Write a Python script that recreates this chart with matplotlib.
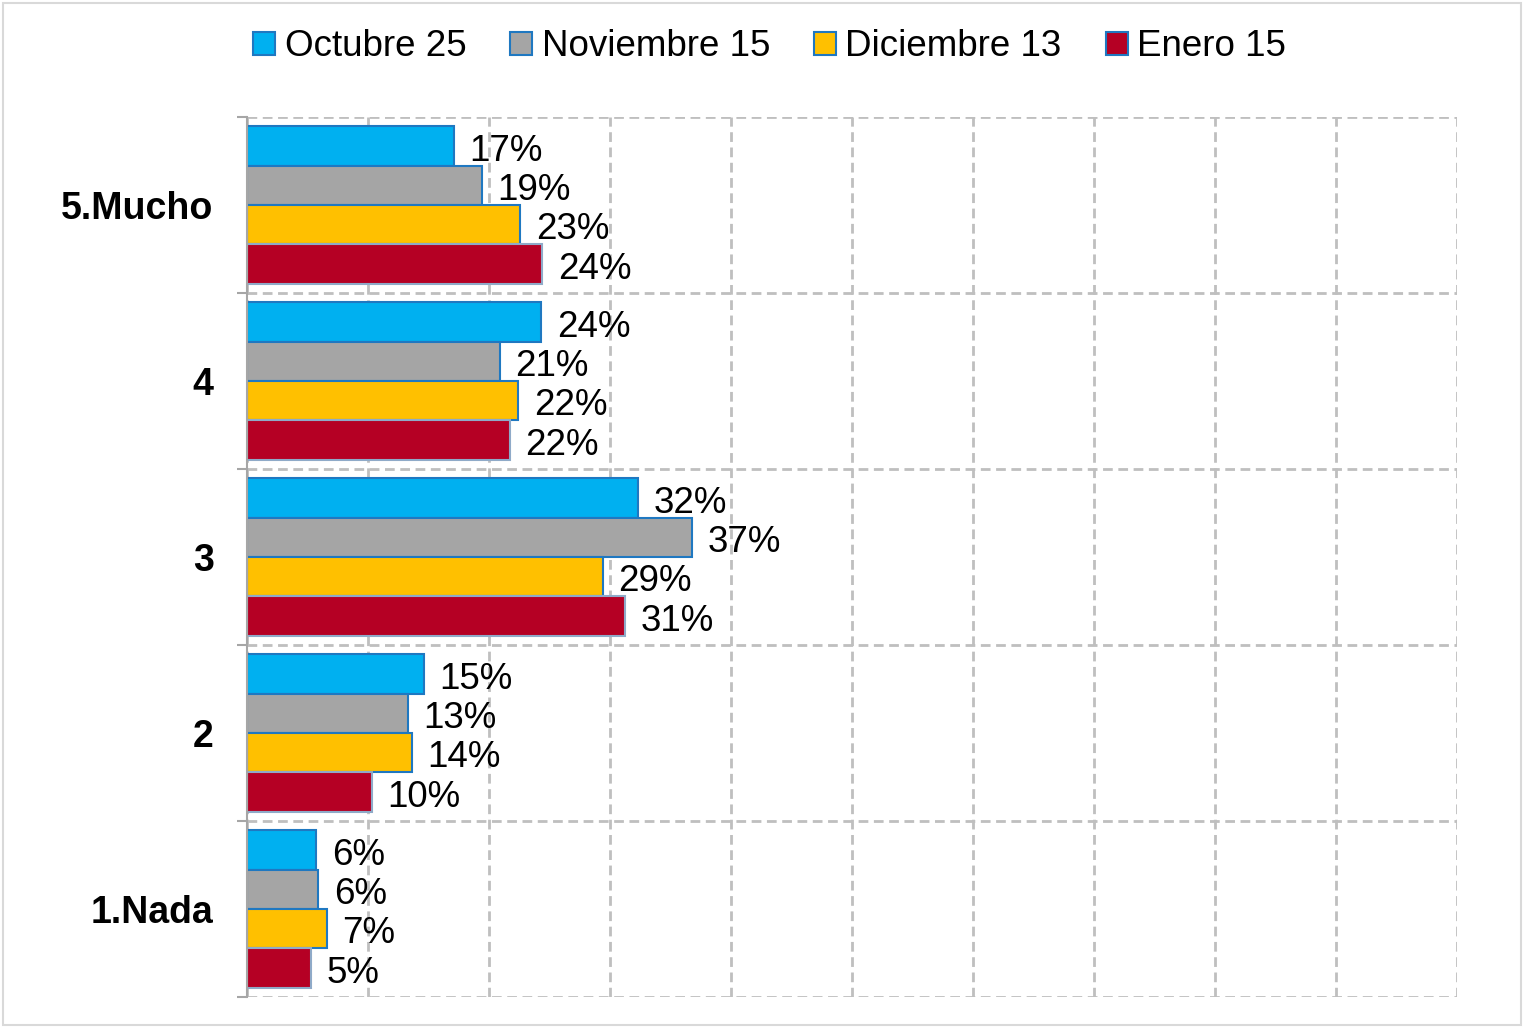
import numpy as np
import matplotlib
matplotlib.use("Agg")
import matplotlib.pyplot as plt
from matplotlib.patches import Rectangle, Patch

plt.rcParams['font.family'] = ['Liberation Sans', 'DejaVu Sans']

# data (percent), categories listed top to bottom
categories = ["5.Mucho", "4", "3", "2", "1.Nada"]
series_names = ["Octubre 25", "Noviembre 15", "Diciembre 13", "Enero 15"]
octubre = [17.1, 24.3, 32.3, 14.6, 5.7]
noviembre = [19.4, 20.9, 36.8, 13.3, 5.9]
diciembre = [22.6, 22.4, 29.4, 13.6, 6.6]
enero = [24.4, 21.7, 31.2, 10.3, 5.3]

series = [octubre, noviembre, diciembre, enero]
colors = ["#00B0F0", "#A5A5A5", "#FFC000", "#B50024"]
edges = ["#1F78C1", "#1F78C1", "#1F78C1", "#8FAAC8"]

fig = plt.figure(figsize=(15.24, 10.28), dpi=100)
ax = fig.add_axes([247 / 1524, 1 - 997 / 1028, 1210 / 1524, 880 / 1028])

y = np.arange(len(categories))
h = 0.224
for k, (vals, name) in enumerate(zip(series, series_names)):
    pos = y + (k - 1.5) * h
    ax.barh(pos, vals, height=h, color=colors[k], edgecolor=edges[k],
            linewidth=1.5, label=name, zorder=3)
    for p, v in zip(pos, vals):
        ax.text(v + 1.3, p + 0.03, f"{v:.0f}%", va="center", ha="left",
                fontsize=26.5, color="black", zorder=4)

ax.set_xlim(0, 100)
ax.set_ylim(len(categories) - 0.5, -0.5)

ax.set_xticks(np.arange(0, 101, 10))
ax.tick_params(axis="x", length=0, labelbottom=False)
ax.set_yticks(y)
ax.set_yticklabels(categories, fontsize=27, fontweight="bold")
ax.set_yticks(np.arange(-0.5, len(categories), 1), minor=True)
ax.tick_params(axis="y", which="major", length=0, pad=24)
ax.tick_params(axis="y", which="minor", length=7, width=1.5, color="#A6A6A6")

dash = (0, (3.5, 2))
ax.grid(axis="x", which="major", color="#BFBFBF", linestyle=dash,
        linewidth=2, zorder=0)
ax.grid(axis="y", which="minor", color="#BFBFBF", linestyle=dash,
        linewidth=2, zorder=0)
ax.grid(axis="y", which="major", visible=False)

for s in ["top", "right", "bottom"]:
    ax.spines[s].set_visible(False)
ax.spines["left"].set_color("#A6A6A6")
ax.spines["left"].set_linewidth(1.5)
ax.spines["left"].set_zorder(5)

handles = [Patch(facecolor=colors[k], edgecolor="#1F78C1",
                 linewidth=1.5, label=series_names[k]) for k in range(4)]
fig.legend(handles=handles, loc="center", bbox_to_anchor=(0.505, 1 - 47 / 1028),
           ncol=4, frameon=False, fontsize=26.5, handlelength=0.6,
           handleheight=0.6, handletextpad=0.25, columnspacing=1.2)

fig.patches.append(Rectangle((3 / 1524, 3 / 1028), 1518 / 1524, 1022 / 1028,
                             transform=fig.transFigure, fill=False,
                             edgecolor="#D9D9D9", linewidth=1.5))

fig.savefig("out.png", dpi=100)
